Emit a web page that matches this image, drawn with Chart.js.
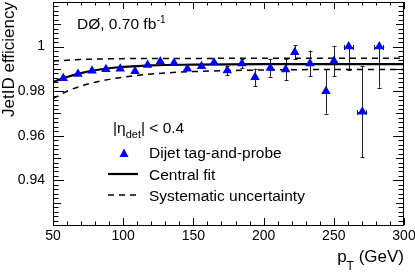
<!DOCTYPE html>
<html lang="en">
<head>
<meta charset="UTF-8" />
<title>JetID efficiency</title>
<script src="https://cdn.jsdelivr.net/npm/chart.js"></script>
<style>
    * {
        margin: 0;
        padding: 0;
        box-sizing: border-box;
    }

    body {
        background: #ffffff;
    }

    .chart-container {
        width: 415px;
        height: 274px;
    }
</style>
</head>
<body>
<div class="chart-container">
    <canvas id="effChart"></canvas>
</div>

<script>
    // measured points (dijet tag-and-probe)
    const ptValues = [57.3, 67.8, 77.8, 87.7, 97.9, 108.4, 117.4, 126.4, 136.2, 145.7, 155.8, 164.7,
        174.1, 184.6, 193.9, 204.8, 215.7, 222.2, 233.0, 244.4, 250.1, 260.6, 270.3, 282.4];
    const effValues = [0.9858, 0.9877, 0.9892, 0.9898, 0.9901, 0.9890, 0.9917, 0.9933, 0.9927, 0.9901, 0.9912, 0.9929,
        0.9893, 0.9924, 0.9862, 0.9904, 0.9897, 0.9975, 0.9924, 0.9800, 0.9935, 1.0, 0.9708, 1.0];
    const effErrUp = [0.0003, 0.0003, 0.0003, 0.0004, 0.0004, 0.0005, 0.0005, 0.0006, 0.0006, 0.0007, 0.0008, 0.0012,
        0.0020, 0.0022, 0.0039, 0.0039, 0.0048, 0.0030, 0.0058, 0.0100, 0.0069, 0, 0.0204, 0];
    const effErrDown = [0.0003, 0.0003, 0.0003, 0.0004, 0.0004, 0.0005, 0.0005, 0.0006, 0.0006, 0.0007, 0.0008, 0.0012,
        0.0020, 0.0022, 0.0039, 0.0039, 0.0048, 0.0030, 0.0058, 0.0100, 0.0069, 0.0103, 0.0204, 0.0184];
    const ptErr = [0, 0, 0, 0, 0, 0, 0, 0, 0, 0, 0, 0,
        0, 0, 0, 0, 0, 0, 0, 0, 0, 3.5, 3.5, 3.5];

    // fit curves
    const fitPt = [50, 60, 70, 80, 90, 100, 120, 150, 200, 250, 300];
    const fitCentral = [0.9841, 0.9864, 0.9881, 0.9894, 0.9903, 0.9909, 0.9916, 0.9919, 0.9921, 0.9921, 0.9921];
    const fitUpper = [0.9935, 0.9939, 0.9942, 0.9944, 0.9945, 0.9946, 0.9947, 0.9947, 0.9948, 0.9948, 0.9948];
    const fitLower = [0.9766, 0.9800, 0.9823, 0.9840, 0.9853, 0.9863, 0.9877, 0.9888, 0.9895, 0.9897, 0.9897];

    const xTickLabels = [50, 100, 150, 200, 250, 300];
    const yTickLabels = [0.94, 0.96, 0.98, 1];

    const FONT = '"Liberation Sans", Arial, sans-serif';
    const BLUE = '#0000ff';

    function line(ctx, x1, y1, x2, y2) {
        ctx.beginPath();
        ctx.moveTo(x1, y1);
        ctx.lineTo(x2, y2);
        ctx.stroke();
    }

    // no extra room for the edge labels, the plot box is fixed
    function noPad(s) {
        s.paddingTop = 0;
        s.paddingBottom = 0;
        s.paddingLeft = 0;
        s.paddingRight = 0;
    }

    const decorPlugin = {
        id: 'decor',
        beforeDatasetsDraw(chart) {
            // error bars under the markers
            const { ctx } = chart;
            const xs = chart.scales.x, ys = chart.scales.y;
            ctx.save();
            ctx.strokeStyle = '#222';
            ctx.lineWidth = 1;
            ptValues.forEach((pt, i) => {
                const px = Math.round(xs.getPixelForValue(pt)) + 0.5;
                const py = ys.getPixelForValue(effValues[i]);
                const yTop = ys.getPixelForValue(effValues[i] + effErrUp[i]);
                const yBot = ys.getPixelForValue(effValues[i] - effErrDown[i]);
                if (yBot - yTop > 8) {
                    line(ctx, px, yTop, px, yBot);
                    if (effErrUp[i] > 0) line(ctx, px - 2, Math.round(yTop) + 0.5, px + 2, Math.round(yTop) + 0.5);
                    line(ctx, px - 2, Math.round(yBot) + 0.5, px + 2, Math.round(yBot) + 0.5);
                }
                if (ptErr[i] > 0) {
                    const xl = xs.getPixelForValue(pt - ptErr[i]);
                    const xr = xs.getPixelForValue(pt + ptErr[i]);
                    const yy = Math.round(py) + 0.5;
                    line(ctx, xl, yy, xr, yy);
                    line(ctx, Math.round(xl) + 0.5, yy - 2.5, Math.round(xl) + 0.5, yy + 2.5);
                    line(ctx, Math.round(xr) - 0.5, yy - 2.5, Math.round(xr) - 0.5, yy + 2.5);
                }
            });
            ctx.restore();
        },
        afterDraw(chart) {
            const { ctx, chartArea } = chart;
            const { left, right, top, bottom } = chartArea;
            const xs = chart.scales.x, ys = chart.scales.y;
            ctx.save();
            ctx.strokeStyle = '#000';
            ctx.lineWidth = 1;

            // frame
            ctx.strokeRect(left + 0.5, top + 0.5, right - left - 1, bottom - top);

            // x ticks, inside, top and bottom
            for (let v = 50; v <= 300; v += 10) {
                const px = Math.round(xs.getPixelForValue(v)) + 0.5;
                const len = v % 50 === 0 ? 7 : 3.5;
                line(ctx, px, bottom, px, bottom - len);
                line(ctx, px, top, px, top + len);
            }
            // y ticks, inside, left and right
            for (let k = 0; k <= 50; k++) {
                const v = 0.92 + k * 0.002;
                const py = Math.round(ys.getPixelForValue(v)) + 0.5;
                const len = k % 10 === 0 ? 11 : (k % 5 === 0 ? 8 : 5.5);
                line(ctx, left, py, left + len, py);
                line(ctx, right, py, right - len, py);
            }

            ctx.fillStyle = '#000';
            ctx.textBaseline = 'alphabetic';

            // y axis title
            ctx.save();
            ctx.translate(14, 2);
            ctx.rotate(-Math.PI / 2);
            ctx.textAlign = 'right';
            ctx.font = `17px ${FONT}`;
            ctx.fillText('JetID efficiency', 0, 0);
            ctx.restore();

            // x axis title: p_T (GeV)
            ctx.textAlign = 'left';
            ctx.font = `17px ${FONT}`;
            const wGev = ctx.measureText(' (GeV)').width;
            ctx.font = `12px ${FONT}`;
            const wT = ctx.measureText('T').width;
            ctx.font = `17px ${FONT}`;
            const wP = ctx.measureText('p').width;
            let xStart = right - wGev - wT - wP;
            ctx.fillText('p', xStart, 262);
            ctx.font = `12px ${FONT}`;
            ctx.fillText('T', xStart + wP, 270);
            ctx.font = `17px ${FONT}`;
            ctx.fillText(' (GeV)', xStart + wP + wT, 262);

            // experiment label
            ctx.font = `15.5px ${FONT}`;
            ctx.fillText('D\u00d8, 0.70 fb', 77, 29);
            const wLab = ctx.measureText('D\u00d8, 0.70 fb').width;
            ctx.font = `10px ${FONT}`;
            ctx.fillText('-1', 77 + wLab + 0.5, 23);

            // |eta_det| < 0.4
            ctx.font = `15.5px ${FONT}`;
            ctx.fillText('|\u03b7', 113, 133);
            let xe = 113 + ctx.measureText('|\u03b7').width;
            ctx.font = `11px ${FONT}`;
            ctx.fillText('det', xe, 138);
            xe += ctx.measureText('det').width;
            ctx.font = `15.5px ${FONT}`;
            ctx.fillText('| < 0.4', xe, 133);

            // legend
            const legX = 149;
            ctx.font = `15.5px ${FONT}`;
            ctx.fillText('Dijet tag-and-probe', legX, 158);
            ctx.fillText('Central fit', legX, 179.5);
            ctx.fillText('Systematic uncertainty', legX, 200.5);

            ctx.fillStyle = BLUE;
            ctx.beginPath();
            ctx.moveTo(124, 148.5);
            ctx.lineTo(128.5, 157);
            ctx.lineTo(119.5, 157);
            ctx.closePath();
            ctx.fill();

            ctx.lineWidth = 2.2;
            line(ctx, 108, 174, 138, 174);
            ctx.lineWidth = 1.5;
            ctx.setLineDash([6, 5]);
            line(ctx, 108, 195, 138, 195);
            ctx.setLineDash([]);

            ctx.restore();
        }
    };

    const ctx = document.getElementById('effChart').getContext('2d');
    const effChart = new Chart(ctx, {
        type: 'scatter',
        data: {
            datasets: [
                {
                    label: 'Dijet tag-and-probe',
                    data: ptValues.map((pt, i) => ({ x: pt, y: effValues[i] })),
                    pointStyle: 'triangle',
                    pointRadius: 5.5,
                    backgroundColor: BLUE,
                    borderColor: BLUE,
                    borderWidth: 0,
                    showLine: false
                },
                {
                    label: 'Central fit',
                    type: 'line',
                    data: fitPt.map((pt, i) => ({ x: pt, y: fitCentral[i] })),
                    borderColor: '#000',
                    borderWidth: 2.2,
                    pointRadius: 0,
                    cubicInterpolationMode: 'monotone',
                    fill: false
                },
                {
                    label: 'Systematic uncertainty (up)',
                    type: 'line',
                    data: fitPt.map((pt, i) => ({ x: pt, y: fitUpper[i] })),
                    borderColor: '#000',
                    borderWidth: 1.5,
                    borderDash: [6, 5],
                    pointRadius: 0,
                    cubicInterpolationMode: 'monotone',
                    fill: false
                },
                {
                    label: 'Systematic uncertainty (down)',
                    type: 'line',
                    data: fitPt.map((pt, i) => ({ x: pt, y: fitLower[i] })),
                    borderColor: '#000',
                    borderWidth: 1.5,
                    borderDash: [6, 5],
                    pointRadius: 0,
                    cubicInterpolationMode: 'monotone',
                    fill: false
                }
            ]
        },
        options: {
            responsive: true,
            maintainAspectRatio: false,
            animation: false,
            layout: {
                autoPadding: false,
                padding: { top: 2, right: 11, left: 0, bottom: 0 }
            },
            scales: {
                x: {
                    type: 'linear',
                    min: 50,
                    max: 300,
                    grid: { display: false, drawTicks: false },
                    border: { display: false },
                    afterBuildTicks: (s) => { s.ticks = xTickLabels.map(v => ({ value: v })); },
                    afterFit: (s) => { s.height = 49; noPad(s); },
                    ticks: {
                        color: '#000',
                        font: { family: FONT, size: 14 },
                        padding: 3,
                        maxRotation: 0,
                        autoSkip: false,
                        callback: (v) => String(v)
                    }
                },
                y: {
                    min: 0.92,
                    max: 1.02,
                    grid: { display: false, drawTicks: false },
                    border: { display: false },
                    afterBuildTicks: (s) => { s.ticks = yTickLabels.map(v => ({ value: v })); },
                    afterFit: (s) => { s.width = 53; noPad(s); },
                    ticks: {
                        color: '#000',
                        font: { family: FONT, size: 14 },
                        padding: 8,
                        autoSkip: false,
                        callback: (v) => String(v)
                    }
                }
            },
            plugins: {
                legend: { display: false },
                tooltip: { enabled: false }
            }
        },
        plugins: [decorPlugin]
    });
</script>
</body>
</html>
